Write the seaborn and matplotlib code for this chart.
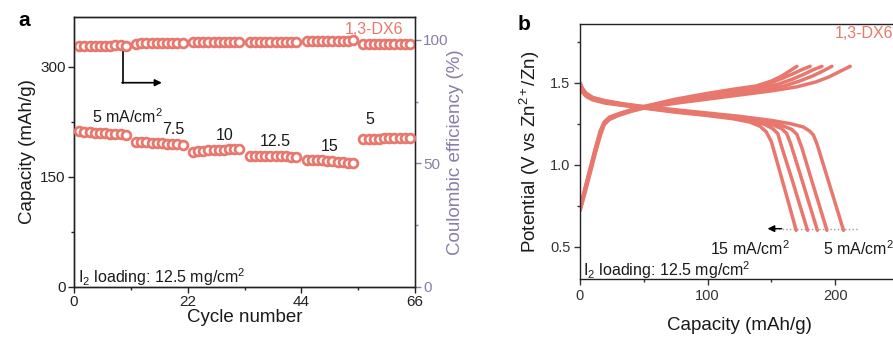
import numpy as np
import pandas as pd
import matplotlib
matplotlib.use("Agg")
import matplotlib.pyplot as plt
from matplotlib.ticker import MultipleLocator
import seaborn as sns

# ---------------- data: panel a ----------------
cycles = [1, 2, 3, 4, 5, 6, 7, 8, 9, 10,
          12, 13, 14, 15, 16, 17, 18, 19, 20, 21,
          23, 24, 25, 26, 27, 28, 29, 30, 31, 32,
          34, 35, 36, 37, 38, 39, 40, 41, 42, 43,
          45, 46, 47, 48, 49, 50, 51, 52, 53, 54,
          56, 57, 58, 59, 60, 61, 62, 63, 64, 65]
capacity = [212, 211.5, 211, 210.5, 210, 209.5, 209, 208.5, 208, 207.5,
            198, 197.5, 197, 196.5, 196.5, 196, 195.5, 195, 194.5, 194,
            184.5, 185.5, 186, 186.5, 186.5, 187, 187, 187.5, 187.5, 188,
            179, 179, 178.5, 178.5, 178.5, 178, 178, 178, 177.5, 177.5,
            173.5, 173, 172.5, 172.5, 172, 171.5, 171, 170.5, 169.5, 168.5,
            201.5, 202, 202, 202, 202.5, 202.5, 203, 203, 203, 203.5]
ce = [97.4, 97.5, 97.5, 97.6, 97.6, 97.7, 97.7, 97.8, 97.9, 97.7,
      98.5, 98.6, 98.7, 98.7, 98.7, 98.8, 98.8, 98.8, 98.8, 98.8,
      99.0, 99.0, 99.1, 99.1, 99.1, 99.1, 99.1, 99.1, 99.1, 99.1,
      99.3, 99.3, 99.3, 99.3, 99.3, 99.3, 99.3, 99.3, 99.3, 99.3,
      99.5, 99.5, 99.6, 99.6, 99.6, 99.6, 99.6, 99.6, 99.7, 99.9,
      98.4, 98.3, 98.3, 98.3, 98.3, 98.3, 98.3, 98.3, 98.3, 98.3]
rate_labels = ["5 mA/cm$^2$", "7.5", "10", "12.5", "15", "5"]
rate_label_x = [3.5, 19.2, 29.2, 38.9, 49.5, 57.3]
rate_label_y = [232, 215, 207, 198, 192, 228]

# ---------------- data: panel b ----------------
rates = ["5", "7.5", "10", "12.5", "15"]
chg_cap = {
    "5":    [0, 4, 8, 12, 16, 19, 23, 30, 40, 50, 75, 100, 125, 150, 170, 185, 195, 204, 211.8],
    "7.5":  [0, 4, 8, 12, 16, 19, 23, 30, 40, 50, 75, 100, 125, 145, 160, 172, 182, 190, 197.4],
    "10":   [0, 4, 8, 12, 16, 19, 23, 30, 40, 50, 75, 100, 125, 140, 155, 166, 175, 183, 189.6],
    "12.5": [0, 4, 8, 12, 16, 19, 23, 30, 40, 50, 75, 100, 120, 135, 148, 158, 167, 174, 180.4],
    "15":   [0, 4, 8, 12, 16, 19, 23, 30, 40, 50, 75, 100, 120, 138, 150, 158, 165, 170],
}
chg_v = {
    "5":    [0.72, 0.83, 0.95, 1.07, 1.18, 1.245, 1.275, 1.30, 1.325, 1.345, 1.375, 1.40, 1.425, 1.45, 1.475, 1.505, 1.535, 1.57, 1.60],
    "7.5":  [0.72, 0.84, 0.96, 1.08, 1.19, 1.25, 1.28, 1.303, 1.328, 1.348, 1.382, 1.41, 1.435, 1.455, 1.48, 1.51, 1.54, 1.57, 1.60],
    "10":   [0.73, 0.85, 0.97, 1.09, 1.20, 1.255, 1.283, 1.306, 1.33, 1.35, 1.388, 1.418, 1.445, 1.465, 1.49, 1.52, 1.55, 1.58, 1.60],
    "12.5": [0.73, 0.85, 0.97, 1.09, 1.20, 1.257, 1.286, 1.308, 1.333, 1.352, 1.393, 1.426, 1.45, 1.47, 1.495, 1.525, 1.555, 1.58, 1.60],
    "15":   [0.74, 0.86, 0.98, 1.10, 1.21, 1.26, 1.29, 1.31, 1.335, 1.355, 1.40, 1.435, 1.46, 1.48, 1.51, 1.54, 1.575, 1.60],
}
dis_cap = {
    "5":    [0, 2, 5, 10, 20, 35, 50, 75, 100, 125, 150, 165, 175, 180, 183, 186, 193.5, 200, 206.5],
    "7.5":  [0, 2, 5, 10, 20, 35, 50, 75, 100, 125, 145, 158, 166, 170, 174, 180, 187, 193.5],
    "10":   [0, 2, 5, 10, 20, 35, 50, 75, 100, 125, 140, 152, 158, 162, 165, 174, 180, 186],
    "12.5": [0, 2, 5, 10, 20, 35, 50, 75, 100, 120, 135, 145, 151, 155, 158, 166, 172, 178.3],
    "15":   [0, 2, 5, 10, 20, 35, 50, 75, 100, 120, 133, 141, 146, 150, 157, 163, 169.4],
}
dis_v = {
    "5":    [1.50, 1.465, 1.435, 1.41, 1.39, 1.37, 1.355, 1.335, 1.315, 1.295, 1.27, 1.25, 1.23, 1.205, 1.18, 1.12, 0.93, 0.766, 0.60],
    "7.5":  [1.495, 1.46, 1.43, 1.407, 1.387, 1.368, 1.352, 1.33, 1.31, 1.288, 1.265, 1.24, 1.215, 1.185, 1.10, 0.944, 0.766, 0.60],
    "10":   [1.49, 1.455, 1.425, 1.403, 1.383, 1.365, 1.35, 1.327, 1.306, 1.283, 1.265, 1.24, 1.22, 1.19, 1.13, 0.906, 0.753, 0.60],
    "12.5": [1.48, 1.447, 1.42, 1.4, 1.38, 1.362, 1.347, 1.323, 1.303, 1.285, 1.265, 1.245, 1.22, 1.19, 1.11, 0.914, 0.76, 0.60],
    "15":   [1.47, 1.44, 1.415, 1.395, 1.375, 1.36, 1.345, 1.32, 1.30, 1.28, 1.26, 1.235, 1.20, 1.14, 0.947, 0.78, 0.60],
}

# ---------------- style ----------------
sns.set_theme(style="ticks")
plt.rcParams["font.family"] = ["Liberation Sans", "DejaVu Sans"]
plt.rcParams["mathtext.fontset"] = "custom"
plt.rcParams["mathtext.rm"] = "Liberation Sans"
plt.rcParams["mathtext.it"] = "Liberation Sans"

RED = "#E8786E"
PURPLE = "#8A7DAA"
TXT = "#1a1a1a"
LBL = 13.5
TCK = 11
TCKB = 10.5
ANN = 11.5

W, H = 893, 338
fig = plt.figure(figsize=(W / 100, H / 100), dpi=100)

def box(l, r, t, b):
    return [l / W, (H - b) / H, (r - l) / W, (b - t) / H]

# ---------------- panel a ----------------
ax = fig.add_axes(box(74, 415, 17, 287))
ax2 = ax.twinx()
ax.set_zorder(ax2.get_zorder() + 1)
ax.patch.set_visible(False)

dfa = pd.DataFrame({"cycle": cycles, "capacity": capacity, "ce": ce})
sns.scatterplot(data=dfa, x="cycle", y="capacity", ax=ax, marker="o",
                facecolor="white", edgecolor=RED, linewidth=2.0, s=40, zorder=3)
sns.scatterplot(data=dfa, x="cycle", y="ce", ax=ax2, marker="o",
                facecolor="white", edgecolor=RED, linewidth=2.0, s=40, zorder=3)

ax.set_xlim(0, 66)
ax.set_ylim(0, 368)
ax2.set_ylim(0, 109.3)
ax.set_xticks([0, 22, 44, 66])
ax.xaxis.set_minor_locator(MultipleLocator(11))
ax.set_yticks([0, 150, 300])
ax.yaxis.set_minor_locator(MultipleLocator(75))
ax2.set_yticks([0, 50, 100])
ax2.yaxis.set_minor_locator(MultipleLocator(25))

ax.set_xlabel("Cycle number", fontsize=LBL, color=TXT, labelpad=0)
ax.set_ylabel("Capacity (mAh/g)", fontsize=LBL, color=TXT, labelpad=3)
ax2.set_ylabel("Coulombic efficiency (%)", fontsize=LBL, color=PURPLE, labelpad=-1)

for a in (ax, ax2):
    for s in a.spines.values():
        s.set_linewidth(1.0)
        s.set_color("#222222")
ax2.spines["right"].set_color(PURPLE)
ax.tick_params(axis="both", which="major", direction="out", length=4, width=1,
               labelsize=TCK, colors="#222222", pad=2)
ax.tick_params(axis="both", which="minor", direction="out", length=2.5, width=1,
               colors="#222222")
ax2.tick_params(axis="y", which="major", direction="out", length=4, width=1,
                labelsize=TCK, colors=PURPLE, pad=2)
ax2.tick_params(axis="y", which="minor", direction="out", length=2.5, width=1,
                colors=PURPLE)

for lab, lx, ly in zip(rate_labels, rate_label_x, rate_label_y):
    ha = "left" if lab.startswith("5 mA") else "center"
    ax.text(lx, ly, lab, fontsize=ANN, color=TXT, ha=ha, va="center")
ax.text(0.8, 14, "I$_2$ loading: 12.5 mg/cm$^2$", fontsize=ANN, color=TXT,
        ha="left", va="center")
ax.text(0.965, 0.955, "1,3-DX6", transform=ax.transAxes, fontsize=ANN,
        color=RED, ha="right", va="center")

# arrow pointing to right axis
ax2.plot([9.4, 9.4], [96.0, 82.7], color="black", lw=1.2, zorder=2)
ax2.annotate("", xy=(17.0, 82.7), xytext=(9.3, 82.7),
             arrowprops=dict(arrowstyle="-|>", color="black", lw=1.2,
                             mutation_scale=10, shrinkA=0, shrinkB=0))

fig.text(18 / W, (H - 21) / H, "a", fontsize=15, fontweight="bold",
         ha="left", va="center", color="black")

# ---------------- panel b ----------------
bx = fig.add_axes(box(580, 899, 24, 279))
rows = []
for r in rates:
    for c, v in zip(chg_cap[r], chg_v[r]):
        rows.append(("c" + r, c, v))
    for c, v in zip(dis_cap[r], dis_v[r]):
        rows.append(("d" + r, c, v))
dfb = pd.DataFrame(rows, columns=["curve", "cap", "volt"])
sns.lineplot(data=dfb, x="cap", y="volt", units="curve", estimator=None,
             sort=False, color=RED, lw=2.5, ax=bx)

bx.set_xlim(0, 250)
bx.set_ylim(0.303, 1.858)
bx.set_xticks([0, 100, 200])
bx.xaxis.set_minor_locator(MultipleLocator(50))
bx.set_yticks([0.5, 1.0, 1.5])
bx.yaxis.set_minor_locator(MultipleLocator(0.25))
bx.set_xlabel("Capacity (mAh/g)", fontsize=LBL, color=TXT, labelpad=10)
bx.set_ylabel("Potential (V vs Zn$^{2+}$/Zn)", fontsize=LBL, color=TXT, labelpad=6)
for s in bx.spines.values():
    s.set_linewidth(1.0)
    s.set_color("#222222")
bx.tick_params(axis="both", which="major", direction="out", length=4, width=1,
               labelsize=TCKB, colors="#333333", pad=3)
bx.tick_params(axis="both", which="minor", direction="out", length=2.5, width=1,
               colors="#333333")

bx.plot([150, 218], [0.61, 0.61], color="#999999", lw=1.0, ls=":", zorder=1)
bx.annotate("", xy=(147, 0.61), xytext=(158, 0.61),
            arrowprops=dict(arrowstyle="-|>", color="black", lw=1.0,
                            mutation_scale=10, shrinkA=0, shrinkB=0))
bx.text(102, 0.49, "15 mA/cm$^2$", fontsize=ANN, color=TXT, ha="left", va="center")
bx.text(190.6, 0.49, "5 mA/cm$^2$", fontsize=ANN, color=TXT, ha="left", va="center")
bx.text(2.4, 0.36, "I$_2$ loading: 12.5 mg/cm$^2$", fontsize=ANN, color=TXT,
        ha="left", va="center")
bx.text(200, 1.80, "1,3-DX6", fontsize=ANN, color=RED, ha="left", va="center")

fig.text(518 / W, (H - 25) / H, "b", fontsize=15, fontweight="bold",
         ha="left", va="center", color="black")

fig.savefig("out.png", dpi=100)
